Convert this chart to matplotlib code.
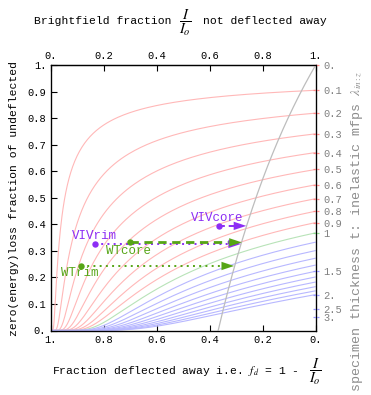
import numpy as np
import matplotlib
matplotlib.use("Agg")
import matplotlib.pyplot as plt

plt.rcParams['font.family'] = ['Liberation Mono', 'DejaVu Sans']
plt.rcParams['mathtext.fontset'] = 'stix'

# ---- data ----
# specimen thickness of each curve (t / lambda_in), read from right axis
thickness = [0.1, 0.2, 0.3, 0.4, 0.5, 0.6, 0.7, 0.8, 0.9, 1.0,
             1.1, 1.2, 1.3, 1.4, 1.5, 1.6, 1.7, 1.8, 1.9, 2.0]
# right axis tick values and labels
right_tick_t = [0, 0.1, 0.2, 0.3, 0.4, 0.5, 0.6, 0.7, 0.8, 0.9, 1, 1.5, 2, 2.5, 3]
right_tick_labels = ["0.", "0.1", "0.2", "0.3", "0.4", "0.5", "0.6", "0.7", "0.8",
                     "0.9", "1", "1.5", "2.", "2.5", "3."]
# ratio lambda_el / lambda_in of the grey reference curve
grey_ratio = 1.72

# measured samples: brightfield fraction I/Io, zero-loss fraction, arrow end
sample_names = ["VIVrim", "VIVcore", "WTrim", "WTcore"]
sample_x = [0.169, 0.635, 0.115, 0.301]
sample_y = [0.326, 0.394, 0.243, 0.332]
sample_arrow_end = [0.718, 0.738, 0.692, 0.721]

bottom_ticks = [0, 0.2, 0.4, 0.6, 0.8, 1.0]
bottom_labels = ["1.", "0.8", "0.6", "0.4", "0.2", "0."]
top_labels = ["0.", "0.2", "0.4", "0.6", "0.8", "1."]
left_ticks = [0, 0.1, 0.2, 0.3, 0.4, 0.5, 0.6, 0.7, 0.8, 0.9, 1.0]
left_labels = ["0.", "0.1", "0.2", "0.3", "0.4", "0.5", "0.6", "0.7", "0.8", "0.9", "1."]

# ---- figure ----
W, H = 371, 395
fig = plt.figure(figsize=(W / 100, H / 100), dpi=100)
ax = fig.add_axes([50.5 / W, (H - 330.5) / H, 265.2 / W, 265.5 / H])
ax.set_xlim(0, 1)
ax.set_ylim(0, 1)

RED = (1.0, 0.72, 0.72)
GREEN = (0.72, 0.89, 0.72)
BLUE = (0.72, 0.72, 1.0)


def model(t, mu):
    """first-event model: elastic events (rate mu) deflect, inelastic ones do not"""
    g = 1.0 + mu
    U = np.exp(-t * g)
    I = (1.0 - U) / g
    xx = U + I
    return xx, U / xx


mu_grid = np.concatenate(([0.0], np.logspace(-3, 3.6, 700)))
for t in thickness:
    c = RED if t < 0.95 else (GREEN if t < 1.05 else BLUE)
    xx, yy = model(t, mu_grid)
    ax.plot(xx, yy, color=c, lw=0.8, zorder=2, solid_capstyle='butt')

t_grid = np.concatenate(([0.0], np.logspace(-3, 1.5, 500)))
gx, gy = model(t_grid, 1.0 / grey_ratio)
ax.plot(gx, gy, color=(0.74, 0.74, 0.74), lw=0.9, zorder=3)

PURPLE = '#8C2EF5'
WTGREEN = '#56A516'
styles = {
    "VIVrim": (PURPLE, ':', 1.4),
    "VIVcore": (PURPLE, '--', 1.4),
    "WTrim": (WTGREEN, ':', 1.4),
    "WTcore": (WTGREEN, '--', 2.0),
}
label_off = {
    "VIVrim": (-0.003, 0.031),
    "VIVcore": (-0.007, 0.029),
    "WTrim": (-0.003, -0.026),
    "WTcore": (-0.007, -0.031),
}
order = ["VIVrim", "WTrim", "WTcore", "VIVcore"]
for name in order:
    i = sample_names.index(name)
    col, ls, lw = styles[name]
    x0, y0, x1 = sample_x[i], sample_y[i], sample_arrow_end[i]
    ax.plot([x0, x1 - 0.02], [y0, y0], color=col, ls=ls, lw=lw, zorder=5,
            dashes=(3, 2) if ls == '--' else (1, 2.2))
    ax.annotate('', xy=(x1, y0), xytext=(x1 - 0.03, y0),
                arrowprops=dict(arrowstyle='-|>,head_length=0.9,head_width=0.3',
                                color=col, lw=0.01, shrinkA=0, shrinkB=0,
                                mutation_scale=10), zorder=6)
    ax.plot([x0], [y0], 'o', color=col, ms=4.6, zorder=7, mec='none')
    dx, dy = label_off[name]
    ax.text(x0 + dx, y0 + dy, name, color=col, fontsize=9, ha='center',
            va='center', zorder=8)

# bottom / left axes
ax.set_xticks(bottom_ticks)
ax.set_xticklabels(bottom_labels)
ax.set_yticks(left_ticks)
ax.set_yticklabels(left_labels)
ax.tick_params(axis='both', direction='in', length=4, width=0.8, labelsize=7.5,
               pad=3, colors='black')
ax.tick_params(axis='y', right=False)
for sp in ax.spines.values():
    sp.set_linewidth(0.9)

# top axis
axt = ax.secondary_xaxis('top')
axt.set_xticks(bottom_ticks)
axt.set_xticklabels(top_labels)
axt.tick_params(direction='in', length=4, width=0.8, labelsize=7.5, pad=3)

# right axis: thickness
axr = ax.twinx()
axr.set_ylim(0, 1)
rt_pos = np.exp(-np.array(right_tick_t, dtype=float))
axr.set_yticks(rt_pos)
axr.set_yticklabels(right_tick_labels)
axr.tick_params(axis='y', direction='inout', length=5, width=0.9, labelsize=7.5,
                labelcolor=(0.5, 0.5, 0.5), pad=3)
for tv, tk in zip(right_tick_t, axr.yaxis.get_major_ticks()):
    c = (1.0, 0.55, 0.55) if tv < 0.95 else ((0.55, 0.85, 0.55) if tv < 1.05 else (0.6, 0.6, 1.0))
    tk.tick2line.set_markeredgecolor(c)
    tk.tick1line.set_markeredgecolor(c)

# labels (fractions drawn as separate, larger pieces)
def ft(xp, yp, s, **kw):
    return fig.text(xp / W, 1 - yp / H, s, **kw)

ft(171, 21, "Brightfield fraction", ha='right', va='center', fontsize=8.2)
ft(185, 23, r"$\dfrac{I}{I_o}$", ha='center', va='center', fontsize=10.5)
ft(203, 21, "not deflected away", ha='left', va='center', fontsize=8.2)

ft(299, 371, r"Fraction deflected away i.e. $f_d$ = 1 -", ha='right', va='center',
   fontsize=8.2)
ft(315, 372, r"$\dfrac{I}{I_o}$", ha='center', va='center', fontsize=10.5)

ft(14, 199, "zero(energy)loss fraction of undeflected",
   ha='center', va='center', rotation=90, fontsize=8.2)
ft(357, 231, r"specimen thickness t: inelastic mfps $\lambda_{in:z}$",
   ha='center', va='center', rotation=90, fontsize=9.6, color=(0.55, 0.55, 0.55))

fig.savefig("out.png", dpi=100)
